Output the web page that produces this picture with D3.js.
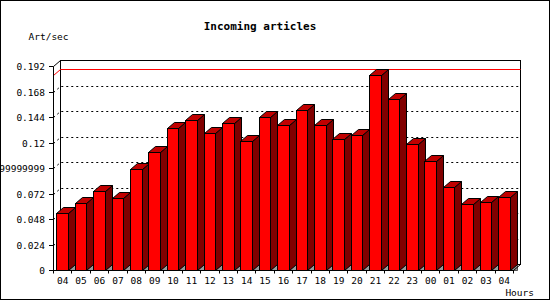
<!DOCTYPE html>
<html>
<head>
<meta charset="utf-8">
<script src="https://cdn.jsdelivr.net/npm/d3@7"></script>
<style>
  body { margin: 0; background: #fff; }
  svg text { font-family: "DejaVu Sans Mono", monospace; fill: #000; }
</style>
</head>
<body>
<div id="chart"></div>
<script>
const hours = ['04', '05', '06', '07', '08', '09', '10', '11', '12', '13', '14', '15', '16',
  '17', '18', '19', '20', '21', '22', '23', '00', '01', '02', '03', '04'];
const artPerSec = [0.0534, 0.0628, 0.0744, 0.0675, 0.0951, 0.1111, 0.1333, 0.1412, 0.1288,
  0.1380, 0.1211, 0.1437, 0.1362, 0.1503, 0.1362, 0.1230, 0.1268, 0.1832, 0.1607, 0.1183,
  0.1023, 0.0778, 0.0618, 0.0637, 0.0690];
const yTicks = [0, 0.024, 0.048, 0.072, 0.096, 0.12, 0.144, 0.168, 0.192];
const yTickLabels = ['0', '0.024', '0.048', '0.072', '0.09599999999999999', '0.12', '0.144', '0.168', '0.192'];

const width = 550;
const height = 300;

const dim = {
  left: 53,
  right: 513,
  top: 66,
  bottom: 270,
  dx: 7,
  dy: 6,
};

const svg = d3.select('#chart').append('svg')
  .attr('width', width)
  .attr('height', height);

// band index used as key since '04' appears twice
const xScale = d3.scaleBand()
  .domain(d3.range(hours.length))
  .range([dim.left, dim.right])
  .paddingInner(0.38)
  .paddingOuter(0.19);
const step = xScale.step();

const yScale = d3.scaleLinear()
  .domain([0, d3.max(yTicks)])
  .range([dim.bottom, dim.top]);

// back plane
svg.append('rect')
  .attr('x', dim.left + dim.dx + 0.5)
  .attr('y', dim.top - dim.dy + 0.5)
  .attr('width', dim.right - dim.left)
  .attr('height', dim.bottom - dim.top)
  .style('fill', '#fff')
  .style('stroke', '#000');

// dotted 3d gridlines
svg.append('g').selectAll('path')
  .data(yTicks.filter(t => t > 0 && t < d3.max(yTicks)))
  .enter().append('path')
  .attr('d', t => {
    const y = Math.round(yScale(t)) + 0.5;
    return `M${dim.left + 0.5},${y} L${dim.left + dim.dx + 0.5},${y - dim.dy} L${dim.right + dim.dx + 0.5},${y - dim.dy}`;
  })
  .style('fill', 'none')
  .style('stroke', '#000')
  .style('stroke-dasharray', '2,3');

// max line
const yMax = Math.round(yScale(d3.max(artPerSec))) + 0.5;
svg.append('path')
  .attr('d', `M${dim.left + 0.5},${yMax} L${dim.left + dim.dx + 0.5},${yMax - dim.dy} L${dim.right + dim.dx + 0.5},${yMax - dim.dy}`)
  .style('fill', 'none')
  .style('stroke', '#f00');

// bars
const bars = svg.append('g');
artPerSec.forEach((value, i) => {
  const x0 = Math.round(xScale(i)) + 0.5;
  const x1 = Math.round(xScale(i) + xScale.bandwidth()) + 0.5;
  const yt = Math.round(yScale(value)) + 0.5;
  const yb = dim.bottom + 0.5;
  const { dx, dy } = dim;

  bars.append('path')
    .attr('d', `M${x1},${yb} L${x1 + dx},${yb - dy} L${x1 + dx},${yb} Z`)
    .style('fill', '#999')
    .style('stroke', '#000')
    .style('stroke-width', 0.6);
  bars.append('path')
    .attr('d', `M${x1},${yt} L${x1 + dx},${yt - dy} L${x1 + dx},${yb - dy} L${x1},${yb} Z`)
    .style('fill', '#800000')
    .style('stroke', '#000');
  bars.append('path')
    .attr('d', `M${x0},${yt} L${x0 + dx},${yt - dy} L${x1 + dx},${yt - dy} L${x1},${yt} Z`)
    .style('fill', '#c00000')
    .style('stroke', '#000');
  bars.append('rect')
    .attr('x', x0)
    .attr('y', yt)
    .attr('width', x1 - x0)
    .attr('height', yb - yt)
    .style('fill', '#f00')
    .style('stroke', '#000');
});

// axes
const axes = svg.append('g').style('stroke', '#000').style('fill', 'none');
axes.append('path')
  .attr('d', `M${dim.left + 0.5},${dim.top + 0.5} L${dim.left + 0.5},${dim.bottom + 0.5} L${dim.right + 0.5},${dim.bottom + 0.5}`);
axes.append('path')
  .attr('d', `M${dim.left + 0.5},${dim.top + 0.5} L${dim.left + dim.dx + 0.5},${dim.top - dim.dy + 0.5}`);
axes.append('path')
  .attr('d', `M${dim.right + 0.5},${dim.bottom + 0.5} L${dim.right + dim.dx + 0.5},${dim.bottom - dim.dy + 0.5}`);

// y ticks and labels
yTicks.forEach((t, i) => {
  const y = Math.round(yScale(t)) + 0.5;
  axes.append('line')
    .attr('x1', dim.left - 4).attr('x2', dim.left + 0.5)
    .attr('y1', y).attr('y2', y);
  svg.append('text')
    .attr('x', dim.left - 8)
    .attr('y', y + 3.5)
    .attr('text-anchor', 'end')
    .style('font-size', '9.5px')
    .text(yTickLabels[i]);
});

// x ticks at category boundaries, labels at centres
d3.range(hours.length + 1).forEach(i => {
  const x = Math.round(dim.left + i * step) + 0.5;
  axes.append('line')
    .attr('x1', x).attr('x2', x)
    .attr('y1', dim.bottom).attr('y2', dim.bottom + 3.5);
});
svg.append('g').selectAll('text')
  .data(hours)
  .enter().append('text')
  .attr('x', (d, i) => xScale(i) + xScale.bandwidth() / 2 + 0.5)
  .attr('y', 283.5)
  .attr('text-anchor', 'middle')
  .style('font-size', '9.5px')
  .text(d => d);

// titles
svg.append('text')
  .attr('x', 260)
  .attr('y', 29.5)
  .attr('text-anchor', 'middle')
  .style('font-size', '11px')
  .style('font-weight', 'bold')
  .text('Incoming articles');
svg.append('text')
  .attr('x', 28.5)
  .attr('y', 40)
  .style('font-size', '9.5px')
  .text('Art/sec');
svg.append('text')
  .attr('x', 534)
  .attr('y', 296)
  .attr('text-anchor', 'end')
  .style('font-size', '9.5px')
  .text('Hours');

// frame
svg.append('rect')
  .attr('x', 0.5)
  .attr('y', 0.5)
  .attr('width', width - 1)
  .attr('height', height - 1)
  .style('fill', 'none')
  .style('stroke', '#000');
</script>
</body>
</html>
